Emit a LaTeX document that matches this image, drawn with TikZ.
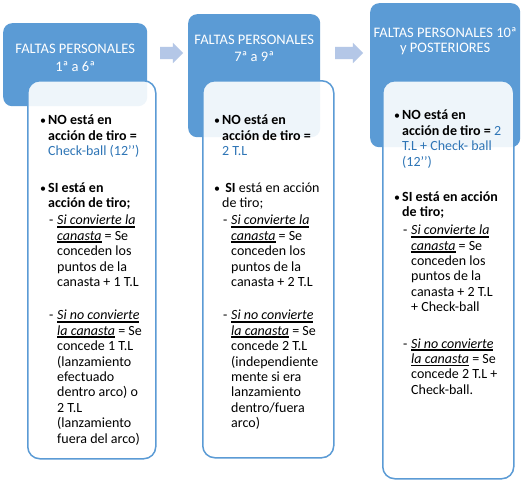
\documentclass[tikz,border=0pt]{standalone}
\usepackage{fontspec}
\setmainfont{Carlito}
\usetikzlibrary{positioning,shapes.arrows,calc}
\definecolor{hdblue}{HTML}{5B9BD5}
\definecolor{arrblue}{HTML}{B4C7E7}
\definecolor{txtblue}{HTML}{2E75B6}
\newcommand\bul{\makebox[8pt][l]{{\fontsize{12}{12}\selectfont •}}}
\newcommand\ia{\hspace*{8pt}}
\newcommand\dsh{\hspace*{9pt}\makebox[8pt][l]{-}}
\newcommand\ib{\hspace*{17pt}}
\newcommand\ulk[1]{\sbox0{#1}\rlap{\rule[-2.8pt]{\wd0}{1.7pt}}\usebox0}
\newcommand\blu[1]{\textcolor{txtblue}{#1}}

\begin{document}
\begin{tikzpicture}[
  x=1pt, y=-1pt,
  font=\fontsize{14}{15.4}\selectfont,
  head/.style={fill=hdblue, rounded corners=9pt, anchor=north west, inner sep=0},
  card/.style={draw=hdblue, line width=1.5pt, fill=white, fill opacity=0.9,
               rounded corners=12pt, anchor=north west, inner sep=0},
  txt/.style={align=left, anchor=north west, inner sep=0},
  htxt/.style={text=white, align=center, anchor=north, inner sep=0,
               font=\fontsize{14.5}{15.4}\selectfont},
  arr/.style={single arrow, fill=arrblue, single arrow head extend=4pt,
              minimum width=20pt, inner xsep=0, inner ysep=6pt}
]
\fill[white] (0,0) rectangle (530,480);
\useasboundingbox (0,0) rectangle (530,480);
% Headers
\node[head, minimum width=144pt, minimum height=83pt] (h1) at (3,23) {};
\node[head, minimum width=132pt, minimum height=123pt] (h2) at (188,14) {};
\node[head, minimum width=150pt, minimum height=144pt] (h3) at (370,3) {};
\node[htxt] (h1t) at ($(h1.north)+(0,20.5)$) {FALTAS PERSONALES\\[3.4pt] 1ª a 6ª};
\node[htxt] (h2t) at ($(h2.north)+(0,21)$) {FALTAS PERSONALES\\[1.4pt] 7ª a 9ª};
\node[htxt] (h3t) at ($(h3.north)+(0,24)$) {FALTAS PERSONALES 10ª\\[0.4pt] y POSTERIORES};
% Arrows between headers
\node[arr, minimum height=23pt] (a1) at (168.5,53) {};
\node[arr, minimum height=28pt] (a2) at (346,53) {};
% Cards
\node[card, minimum width=128pt, minimum height=378pt] (c1) at (27,80) {};
\node[card, minimum width=131pt, minimum height=377pt] (c2) at (202,80) {};
\node[card, minimum width=131pt, minimum height=398pt] (c3) at (382,80) {};
% Card texts
\node[txt] (t1) at (40,115) {\bul\textbf{NO está en}\\
  \ia\textbf{acción de tiro =}\\
  \ia\blu{Check-ball (12’’)}\\[21pt]
  \bul\textbf{SI está en}\\
  \ia\textbf{acción de tiro;}\\[2pt]
  \dsh\ulk{\textit{Si convierte la}}\\
  \ib\ulk{\textit{canasta}} = Se\\
  \ib conceden los\\
  \ib puntos de la\\
  \ib canasta + 1 T.L\\[18pt]
  \dsh\ulk{\textit{Si no convierte}}\\
  \ib\ulk{\textit{la canasta}} = Se\\
  \ib concede 1 T.L\\
  \ib (lanzamiento\\
  \ib efectuado\\
  \ib dentro arco) o\\
  \ib 2 T.L\\
  \ib (lanzamiento\\
  \ib fuera del arco)};
\node[txt] (t2) at (214,115) {\bul\textbf{NO está en}\\
  \ia\textbf{acción de tiro =}\\
  \ia\blu{2 T.L}\\[21pt]
  \bul\ \textbf{SI} está en acción\\
  \ia de tiro;\\[2pt]
  \dsh\ulk{\textit{Si convierte la}}\\
  \ib\ulk{\textit{canasta}} = Se\\
  \ib conceden los\\
  \ib puntos de la\\
  \ib canasta + 2 T.L\\[18pt]
  \dsh\ulk{\textit{Si no convierte}}\\
  \ib\ulk{\textit{la canasta}} = Se\\
  \ib concede 2 T.L\\
  \ib (independiente\\
  \ib mente si era\\
  \ib lanzamiento\\
  \ib dentro/fuera\\
  \ib arco)};
\node[txt] (t3) at (394,110) {\bul\textbf{NO está en}\\
  \ia\textbf{acción de tiro =} \blu{2}\\
  \ia\blu{T.L + Check- ball}\\
  \ia\blu{(12’’)}\\[20pt]
  \bul\textbf{SI está en acción}\\
  \ia\textbf{de tiro;}\\[2.5pt]
  \dsh\ulk{\textit{Si convierte la}}\\
  \ib\ulk{\textit{canasta}} = Se\\
  \ib conceden los\\
  \ib puntos de la\\
  \ib canasta + 2 T.L\\
  \ib + Check-ball\\[21pt]
  \dsh\ulk{\textit{Si no convierte}}\\
  \ib\ulk{\textit{la canasta}} = Se\\
  \ib concede 2 T.L +\\
  \ib Check-ball.};
\end{tikzpicture}
\end{document}
